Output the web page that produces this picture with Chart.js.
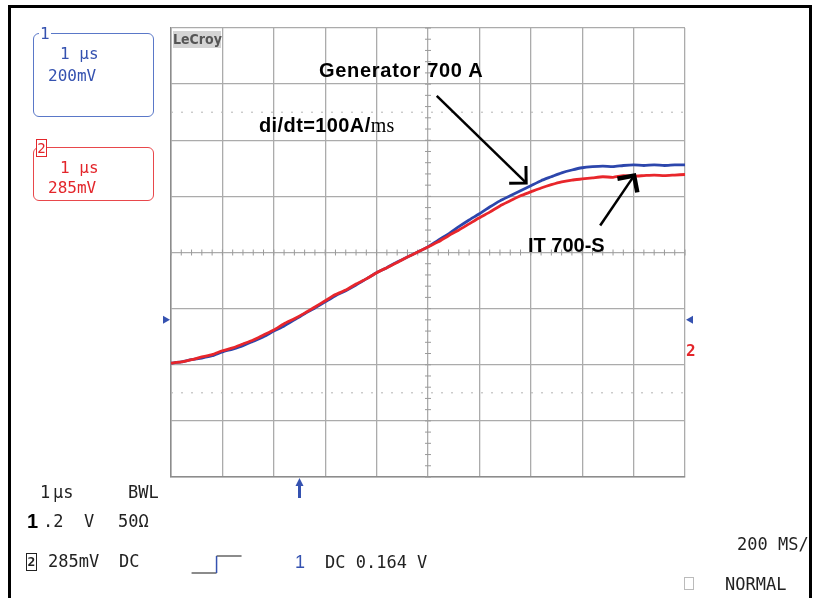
<!DOCTYPE html>
<html>
<head>
<meta charset="utf-8">
<script src="https://cdn.jsdelivr.net/npm/chart.js@4.4.1/dist/chart.umd.min.js"></script>
<style>
body { margin: 0; background: #fff; }
#wrap { position: relative; width: 815px; height: 598px; overflow: hidden; background: #fff; }
#scope { position: absolute; left: 0; top: 0; }
#frame { position: absolute; left: 8px; top: 5px; width: 798px; height: 620px; border: 3px solid #000; }
.t { position: absolute; white-space: pre; line-height: 1; font-family: "DejaVu Sans Mono", monospace; font-size: 17px; color: #222; }
.note { position: absolute; white-space: pre; line-height: 1; font-family: "Liberation Sans", Arial, sans-serif; font-weight: bold; font-size: 20px; color: #000; }
.box { position: absolute; border-radius: 6px; }
.blue { color: #3552b0; }
.red { color: #e3262b; }
</style>
</head>
<body>
<div id="wrap">
  <canvas id="scope" width="815" height="598"></canvas>
  <div id="frame"></div>

  <!-- channel boxes -->
  <div class="box" style="left:33px;top:33px;width:119px;height:82px;border:1.5px solid #5a78c8;"></div>
  <div class="t blue" style="left:39px;top:26px;font-size:16px;background:#fff;padding:0 1px;">1</div>
  <div class="t blue" style="left:60px;top:46px;font-size:16px;">1 µs</div>
  <div class="t blue" style="left:48px;top:68px;font-size:16px;">200mV</div>

  <div class="box" style="left:33px;top:147px;width:119px;height:52px;border:1.5px solid #e8474b;"></div>
  <div class="t red" style="left:36px;top:139px;font-size:14px;width:9px;height:16px;border:1.5px solid #e3262b;background:#fff;text-align:center;line-height:16px;">2</div>
  <div class="t red" style="left:60px;top:160px;font-size:16px;">1 µs</div>
  <div class="t red" style="left:48px;top:180px;font-size:16px;">285mV</div>

  <!-- logo -->
  <div class="t" style="left:173px;top:31px;width:48px;height:17px;background:#d4d4d4;color:#555;font-family:'DejaVu Sans Condensed',sans-serif;font-weight:bold;font-size:14px;line-height:17px;text-align:center;">LeCroy</div>

  <!-- annotations -->
  <div class="note" style="left:319px;top:60px;letter-spacing:0.7px;">Generator 700 A</div>
  <div class="note" style="left:259px;top:115px;letter-spacing:0.4px;">di/dt=100A/<span style="font-family:'Liberation Serif',serif;font-weight:normal;">ms</span></div>
  <div class="note" style="left:528px;top:235px;">IT 700-S</div>

  <!-- channel 2 ground marker on the right -->
  <div class="t red" style="left:686px;top:343px;font-size:16px;font-weight:bold;">2</div>

  <!-- status lines -->
  <div class="t" style="left:40px;top:484px;">1</div>
  <div class="t" style="left:53px;top:484px;">µs</div>
  <div class="t" style="left:128px;top:484px;">BWL</div>

  <div class="t" style="left:27px;top:511px;font-family:'Liberation Sans',sans-serif;font-weight:bold;font-size:20px;color:#000;">1</div>
  <div class="t" style="left:43px;top:513px;">.2  V</div>
  <div class="t" style="left:118px;top:513px;">50Ω</div>

  <div class="t" style="left:26px;top:553px;width:9px;height:16px;border:1.5px solid #222;font-size:13px;font-weight:bold;line-height:16px;text-align:center;">2</div>
  <div class="t" style="left:48px;top:553px;">285mV</div>
  <div class="t" style="left:119px;top:553px;">DC</div>

  <div class="t blue" style="left:295px;top:553px;font-family:'Liberation Sans',sans-serif;font-size:18px;">1</div>
  <div class="t" style="left:325px;top:554px;">DC 0.164 V</div>

  <div class="t" style="left:737px;top:536px;">200 MS/</div>
  <div style="position:absolute;left:684px;top:577px;width:8px;height:11px;border:1px solid #bbb;"></div>
  <div class="t" style="left:725px;top:576px;">NORMAL</div>
</div>

<script>
// time base, one point every 0.2 µs across the 10 divisions
const timeUs = [
    -5.0, -4.8, -4.6, -4.4, -4.2, -4.0, -3.8, -3.6, -3.4, -3.2,
    -3.0, -2.8, -2.6, -2.4, -2.2, -2.0, -1.8, -1.6, -1.4, -1.2,
    -1.0, -0.8, -0.6, -0.4, -0.2, 0.0, 0.2, 0.4, 0.6, 0.8,
    1.0, 1.2, 1.4, 1.6, 1.8, 2.0, 2.2, 2.4, 2.6, 2.8,
    3.0, 3.2, 3.4, 3.6, 3.8, 4.0, 4.2, 4.4, 4.6, 4.8, 5.0
];

// channel 1: generator current, in screen divisions
const generatorDiv = [
    -1.97, -1.95, -1.91, -1.88, -1.84, -1.77, -1.72, -1.66, -1.58, -1.50,
    -1.40, -1.31, -1.20, -1.09, -0.99, -0.88, -0.77, -0.68, -0.58, -0.47,
    -0.36, -0.27, -0.17, -0.08, 0.01, 0.10, 0.22, 0.33, 0.46, 0.58,
    0.69, 0.81, 0.92, 1.01, 1.10, 1.19, 1.28, 1.35, 1.42, 1.47,
    1.51, 1.53, 1.54, 1.53, 1.55, 1.56, 1.55, 1.56, 1.55, 1.56, 1.56
];

// channel 2: IT 700-S output, in screen divisions
const it700Div = [
    -1.97, -1.95, -1.91, -1.86, -1.82, -1.75, -1.70, -1.63, -1.56, -1.47,
    -1.38, -1.27, -1.18, -1.08, -0.97, -0.86, -0.75, -0.67, -0.56, -0.47,
    -0.36, -0.27, -0.18, -0.08, 0.01, 0.10, 0.19, 0.30, 0.40, 0.51,
    0.62, 0.72, 0.83, 0.92, 1.01, 1.08, 1.15, 1.21, 1.26, 1.29,
    1.31, 1.33, 1.35, 1.34, 1.37, 1.36, 1.37, 1.38, 1.37, 1.38, 1.39
];

// annotation arrows, tail and tip in (µs, div)
const arrows = [
    { from: [0.17, 2.79], to: [1.91, 1.24], head: 3 },
    { from: [3.35, 0.48], to: [4.01, 1.37], head: 4.5 }
];

const groundDiv = -1.2;   // channel 1 offset marker
const triggerUs = -2.5;   // trigger position marker

const colors = {
    ch1: '#2c46ac',
    ch2: '#e8262b',
    grid: '#ababab',
    marker: '#3552b0'
};

function toPoints(ys) {
    return timeUs.map((t, i) => ({ x: t, y: ys[i] }));
}

// graticule extras, markers and arrows
const scopeDecor = {
    id: 'scopeDecor',
    beforeDatasetsDraw(chart) {
        const ctx = chart.ctx;
        const xs = chart.scales.x, ys = chart.scales.y;
        const area = chart.chartArea;
        const x0 = xs.getPixelForValue(0);
        const y0 = ys.getPixelForValue(0);
        ctx.save();
        ctx.strokeStyle = '#9a9a9a';
        ctx.lineWidth = 1;
        ctx.beginPath();
        for (let i = -25; i <= 25; i++) {
            const px = xs.getPixelForValue(i / 5);
            ctx.moveTo(px, y0 - 3);
            ctx.lineTo(px, y0 + 3);
        }
        for (let i = -20; i <= 20; i++) {
            const py = ys.getPixelForValue(i / 5);
            ctx.moveTo(x0 - 3, py);
            ctx.lineTo(x0 + 3, py);
        }
        ctx.stroke();

        // dotted level lines
        ctx.strokeStyle = '#b4b4b4';
        ctx.setLineDash([2, 8]);
        [2.5, -2.5].forEach(v => {
            const py = ys.getPixelForValue(v);
            ctx.beginPath();
            ctx.moveTo(area.left, py);
            ctx.lineTo(area.right, py);
            ctx.stroke();
        });
        ctx.restore();
    },
    afterDatasetsDraw(chart) {
        const ctx = chart.ctx;
        const xs = chart.scales.x, ys = chart.scales.y;
        const area = chart.chartArea;
        ctx.save();

        // offset markers at both sides
        const gy = ys.getPixelForValue(groundDiv);
        ctx.fillStyle = colors.marker;
        ctx.beginPath();
        ctx.moveTo(area.left - 1, gy);
        ctx.lineTo(area.left - 8, gy - 4);
        ctx.lineTo(area.left - 8, gy + 4);
        ctx.fill();
        ctx.beginPath();
        ctx.moveTo(area.right + 1, gy);
        ctx.lineTo(area.right + 8, gy - 4);
        ctx.lineTo(area.right + 8, gy + 4);
        ctx.fill();

        // trigger position
        const tx = xs.getPixelForValue(triggerUs);
        ctx.beginPath();
        ctx.moveTo(tx, area.bottom + 1);
        ctx.lineTo(tx - 4, area.bottom + 9);
        ctx.lineTo(tx + 4, area.bottom + 9);
        ctx.fill();
        ctx.fillRect(tx - 1.5, area.bottom + 8, 3, 13);

        // arrows
        ctx.strokeStyle = '#000';
        ctx.lineCap = 'butt';
        arrows.forEach(a => {
            const x1 = xs.getPixelForValue(a.from[0]), y1 = ys.getPixelForValue(a.from[1]);
            const x2 = xs.getPixelForValue(a.to[0]), y2 = ys.getPixelForValue(a.to[1]);
            ctx.lineWidth = 2.5;
            ctx.beginPath();
            ctx.moveTo(x1, y1);
            ctx.lineTo(x2, y2);
            ctx.stroke();
            const back = Math.atan2(y1 - y2, x1 - x2);
            ctx.lineWidth = a.head;
            ctx.beginPath();
            ctx.moveTo(x2 + 17 * Math.cos(back + Math.PI / 4), y2 + 17 * Math.sin(back + Math.PI / 4));
            ctx.lineTo(x2, y2);
            ctx.lineTo(x2 + 17 * Math.cos(back - Math.PI / 4), y2 + 17 * Math.sin(back - Math.PI / 4));
            ctx.stroke();
        });

        // trigger slope symbol
        const sx = xs.getPixelForValue(triggerUs - 2.1);
        ctx.lineWidth = 1.5;
        ctx.strokeStyle = '#666';
        ctx.beginPath();
        ctx.moveTo(sx, 573);
        ctx.lineTo(sx + 25, 573);
        ctx.moveTo(sx + 25, 556);
        ctx.lineTo(sx + 50, 556);
        ctx.stroke();
        ctx.strokeStyle = colors.marker;
        ctx.beginPath();
        ctx.moveTo(sx + 25, 573);
        ctx.lineTo(sx + 25, 556);
        ctx.stroke();
        ctx.restore();
    }
};

const ctx = document.getElementById('scope').getContext('2d');
new Chart(ctx, {
    type: 'line',
    data: {
        datasets: [
            {
                label: 'IT 700-S',
                data: toPoints(it700Div),
                borderColor: colors.ch2,
                borderWidth: 2.8,
                pointRadius: 0,
                tension: 0.2
            },
            {
                label: 'Generator 700 A',
                data: toPoints(generatorDiv),
                borderColor: colors.ch1,
                borderWidth: 2.8,
                pointRadius: 0,
                tension: 0.2
            }
        ]
    },
    options: {
        responsive: false,
        animation: false,
        devicePixelRatio: 1,
        layout: {
            padding: { left: 171, top: 28, right: 130, bottom: 121 }
        },
        scales: {
            x: {
                type: 'linear',
                min: -5,
                max: 5,
                ticks: { display: false, stepSize: 1 },
                grid: { color: colors.grid, lineWidth: 1.3, drawTicks: false },
                border: { display: true, color: '#8c8c8c', width: 1.5 }
            },
            y: {
                min: -4,
                max: 4,
                ticks: { display: false, stepSize: 1 },
                grid: { color: colors.grid, lineWidth: 1.3, drawTicks: false },
                border: { display: true, color: '#8c8c8c', width: 1.5 }
            }
        },
        plugins: {
            legend: { display: false },
            tooltip: { enabled: false }
        }
    },
    plugins: [scopeDecor]
});
</script>
</body>
</html>
